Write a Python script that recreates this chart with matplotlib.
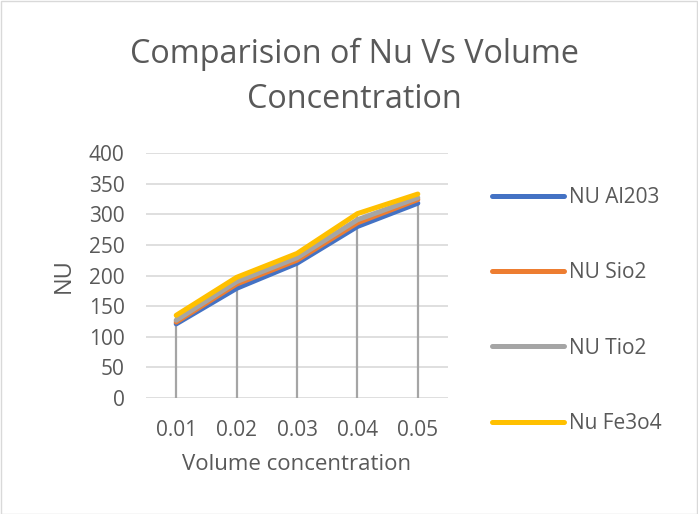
import matplotlib
matplotlib.use("Agg")
import matplotlib.pyplot as plt
from matplotlib.patches import Rectangle
import numpy as np

categories = ["0.01", "0.02", "0.03", "0.04", "0.05"]
nu_al2o3 = [121, 179, 220, 280, 318]
nu_sio2 = [124, 186, 225, 286, 324]
nu_tio2 = [127, 190, 229, 291, 327]
nu_fe3o4 = [135, 197, 236, 301, 333]
series_names = ["NU Al203", "NU Sio2", "NU Tio2", "Nu Fe3o4"]
yticks = [0, 50, 100, 150, 200, 250, 300, 350, 400]

colors = ["#4472C4", "#ED7D31", "#A5A5A5", "#FFC000"]
txt = "#595959"
plt.rcParams['font.family'] = ['Open Sans', 'DejaVu Sans']

fig = plt.figure(figsize=(6.98, 5.14), dpi=100)
W, H = 698, 514
ax = fig.add_axes([146 / W, 1 - 398 / H, 302 / W, 245 / H])

x = np.arange(len(categories))
all_series = [nu_al2o3, nu_sio2, nu_tio2, nu_fe3o4]
top = np.max(np.array(all_series), axis=0)
# drop lines
for xi, t in zip(x, top):
    ax.plot([xi, xi], [0, t], color="#A5A5A5", lw=1.6, zorder=2, solid_capstyle="butt")
for s, c, n in zip(all_series, colors, series_names):
    ax.plot(x, s, color=c, lw=3.6, label=n, zorder=3, solid_capstyle="round")

ax.set_xlim(-0.5, len(categories) - 0.5)
ax.set_ylim(0, 400)
ax.set_yticks(yticks)
ax.set_xticks(x)
ax.set_xticklabels(categories)
ax.yaxis.grid(True, color="#D9D9D9", lw=1.2)
ax.set_axisbelow(True)
for sp in ax.spines.values():
    sp.set_visible(False)
ax.tick_params(length=0, labelsize=15, colors=txt)
ax.tick_params(axis='x', pad=16)
ax.tick_params(axis='y', pad=15.5)
ax.set_xlabel("Volume concentration", fontsize=16, color=txt, labelpad=9)
ax.set_ylabel("NU", fontsize=17, color=txt, labelpad=9)

fig.text(354 / W, 1 - 77 / H, "Comparision of Nu Vs Volume\nConcentration",
         ha="center", va="center", fontsize=23.3, color=txt, linespacing=1.45)

leg = ax.legend(loc="upper left", bbox_to_anchor=(484 / W, 1 - 179 / H),
                bbox_transform=fig.transFigure, frameon=False, fontsize=15,
                labelspacing=2.6, handlelength=3.45, handletextpad=0.25,
                borderaxespad=0)
for t in leg.get_texts():
    t.set_color(txt)

fig.patches.append(Rectangle((0.5 / W, 0.5 / H), 1 - 1.5 / W, 1 - 1.5 / H,
                             transform=fig.transFigure, fill=False,
                             edgecolor="#D9D9D9", lw=1))
fig.savefig("out.png", dpi=100)
